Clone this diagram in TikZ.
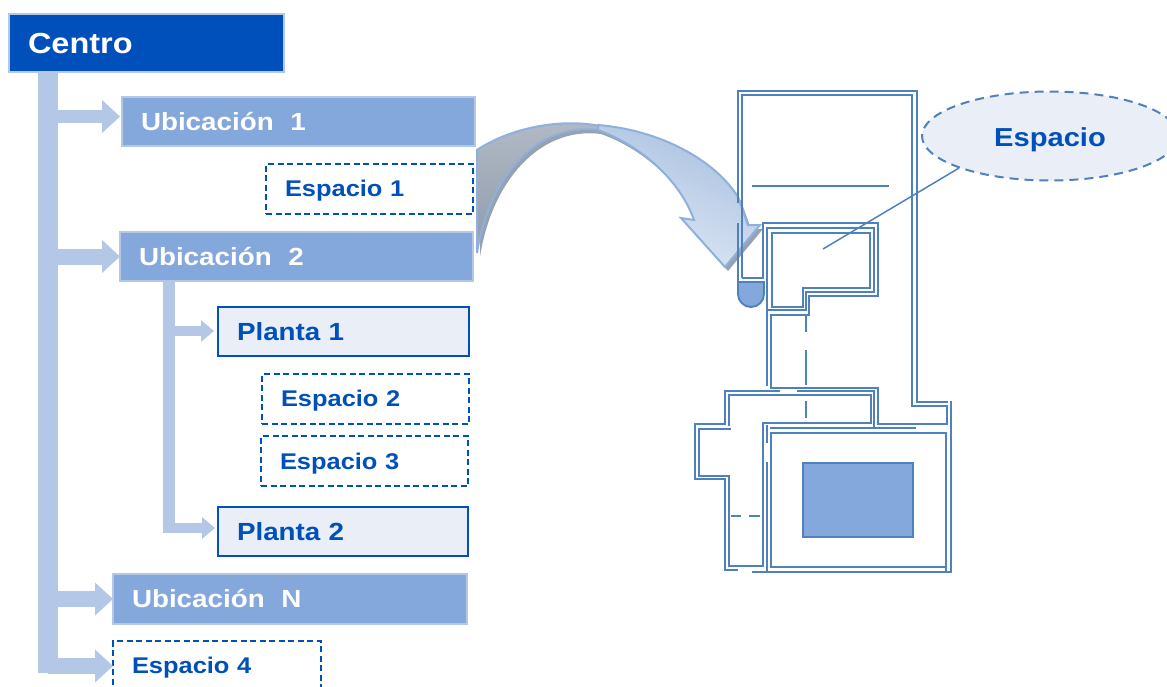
\documentclass[tikz,border=0pt]{standalone}
\usepackage{fontspec}
\setmainfont{Liberation Sans}
\newfontfamily\lab[FakeStretch=1.12]{Liberation Sans}
\usetikzlibrary{arrows.meta,shapes.geometric}
\definecolor{deep}{HTML}{0050BB}
\definecolor{mid}{HTML}{84A8DC}
\definecolor{pale}{HTML}{E9EEF7}
\definecolor{barc}{HTML}{B4C7E7}
\definecolor{wall}{HTML}{4F81BD}
\definecolor{arrowline}{HTML}{8FB0DC}
\definecolor{shadowc}{HTML}{97A2B0}
\definecolor{backtop}{HTML}{B2BAC6}
\definecolor{backbot}{HTML}{8F9BAA}
\definecolor{fronttop}{HTML}{A9C0E0}
\definecolor{frontbot}{HTML}{E0E9F5}
\newcommand\dn[2]{\raisebox{-#1pt}[\height][\depth]{#2}}
\tikzset{
  x=1pt,y=-1pt,
  boxbase/.style={rectangle,anchor=north west,outer sep=0pt,inner ysep=0pt,inner xsep=19pt,align=left},
  centrobox/.style={boxbase,fill=deep,draw=barc,line width=1.5pt,text=white,font=\lab\bfseries\fontsize{29}{32}\selectfont},
  ubibox/.style={boxbase,fill=mid,draw=barc,line width=1.5pt,text=white,font=\lab\bfseries\fontsize{24.8}{28}\selectfont},
  planbox/.style={boxbase,fill=pale,draw=deep,line width=2pt,text=deep,font=\lab\bfseries\fontsize{24.8}{28}\selectfont},
  spacebox/.style={boxbase,draw=deep,dashed,dash pattern=on 6pt off 3.5pt,line width=2pt,text=deep,font=\lab\bfseries\fontsize{22.7}{26}\selectfont},
  trunkline/.style={draw=barc,line width=19.5pt},
  subtrunk/.style={draw=barc,line width=12pt},
  branch/.style={draw=barc,line width=16pt,-{Triangle[length=18pt,width=32pt]}},
  subbranch/.style={draw=barc,line width=10.5pt,-{Triangle[length=13pt,width=21pt]}},
  wallline/.style={draw=wall,line width=1.9pt},
  thinwall/.style={draw=wall,line width=1.5pt},
  bigarrow/.style={draw=arrowline,line width=2pt},
}
\begin{document}
\begin{tikzpicture}
\useasboundingbox (0,0) rectangle (1167,686);
\clip (0,0) rectangle (1167,686);
% curved arrow: shadow
\begin{scope}[shift={(3pt,-4pt)}]
\fill[shadowc] (477,150) .. controls (510,128) and (560,118) .. (600,126)
  -- (598,130) .. controls (535,122) and (488,180) .. (477,253) -- cycle;
\fill[shadowc] (598,125) .. controls (660,130) and (715,160) .. (738,197) -- (748,225) -- (760,225)
  -- (725,267) -- (681,218) -- (694,220) .. controls (680,180) and (640,145) .. (598,130) -- cycle;
\end{scope}
% back of the ribbon
\path[bigarrow,top color=backtop,bottom color=backbot]
  (477,150) .. controls (510,128) and (560,118) .. (600,126)
  -- (598,130) .. controls (535,122) and (488,180) .. (477,253) -- cycle;
% front of the ribbon
\path[bigarrow,top color=fronttop,bottom color=frontbot,shading angle=-25]
  (598,125) .. controls (660,130) and (715,160) .. (738,197) -- (748,225) -- (760,225)
  -- (725,267) -- (681,218) -- (694,220) .. controls (680,180) and (640,145) .. (598,130) -- cycle;
% plan
\path[wallline,fill=none]
  (738,203) -- (738,91) -- (917,91) -- (917,402) -- (948,402);
\path[wallline] (738,223) -- (738,282);
\path[wallline] (742,278) -- (742,95) -- (912,95) -- (912,406) -- (947,406) -- (947,424) -- (878,424) -- (878,388) -- (771,388) -- (771,315) -- (809,315) -- (809,296) -- (878,296) -- (878,223) -- (763,223) -- (763,278) -- (742,278);
\path[wallline] (767,386) -- (767,228) -- (874,228) -- (874,292) -- (806,292) -- (806,310) -- (767,310);
\path[wallline] (772,233) -- (870,233) -- (870,288) -- (803,288) -- (803,307) -- (772,307) -- cycle;
\path[thinwall] (752,186) -- (889,186);
\path[wallline] (806,315) -- (806,332);
\path[wallline] (806,350) -- (806,385);
\path[wallline] (806,401) -- (806,418);
\path[wallline] (780,391) -- (725,391) -- (725,424) -- (695,424) -- (695,479) -- (725,479) -- (725,570) -- (738,570);
\path[wallline] (797,391) -- (874,391) -- (874,428);
\path[wallline] (729,426) -- (729,395) -- (871,395) -- (871,423) -- (763,423) -- (763,566) -- (729,566) -- (729,476) -- (699,476) -- (699,429) -- (731,429);
\path[wallline] (767,425) -- (767,443);
\path[wallline] (767,462) -- (767,572);
\path[wallline] (770,428) -- (916,428);
\path[wallline] (752,572) -- (951,572) -- (951,401);
\path[wallline] (771,433) rectangle (946,567);
\path[wallline] (946,567) -- (946,572);
\path[wallline,fill=mid] (803,463) rectangle (913,537);
\path[thinwall] (731,516) -- (741,516);
\path[thinwall] (749,516) -- (760,516);
\path[wallline,fill=mid] (738,282) -- (764,282) -- (764,294) arc[start angle=0,end angle=180,radius=13] -- cycle;
% connectors
\coordinate (tt) at (48,73);
\coordinate (tb) at (48,673);
\coordinate (st) at (169,282);
\coordinate (sb) at (169,533);
\coordinate (ubi1in) at (120,116.5);
\coordinate (pl1in) at (214,331);
\coordinate (pl2in) at (215,528);
\draw[trunkline] (tt) -- (tb);
\draw[subtrunk] (st) -- (sb);
% tree boxes
\node[centrobox,minimum height=58pt,text width=237pt] (centro) at (9,14) {\dn{1}{Centro}};
\node[ubibox,minimum height=49pt,text width=315pt] (ubi1) at (122,97) {Ubicación~~1};
\node[spacebox,minimum height=50pt,text width=169pt] (esp1) at (266,164) {\dn{2}{Espacio 1}};
\node[ubibox,minimum height=49pt,text width=315pt] (ubi2) at (120,232) {Ubicación~~2};
\node[planbox,minimum height=49pt,text width=213pt] (pl1) at (218,307) {Planta 1};
\node[spacebox,minimum height=50pt,text width=169pt] (esp2) at (262,374) {\dn{2}{Espacio 2}};
\node[spacebox,minimum height=50pt,text width=169pt] (esp3) at (261,436) {\dn{3}{Espacio 3}};
\node[planbox,minimum height=49pt,text width=212pt] (pl2) at (218,507) {Planta 2};
\node[ubibox,minimum height=50pt,text width=316pt] (ubin) at (113,574) {Ubicación~~N};
\node[spacebox,minimum height=50pt,text width=170pt] (esp4) at (113,641) {\dn{2}{Espacio 4}};
\draw[branch,line width=13pt] (tt |- ubi1in) -- (ubi1in);
\draw[branch] (tt |- ubi2.west) -- (ubi2.west);
\draw[branch] (tt |- ubin.west) -- (ubin.west);
\draw[branch] (tt |- esp4.west) -- (esp4.west);
\draw[subbranch] (st |- pl1in) -- (pl1in);
\draw[subbranch] (sb |- pl2in) -- (pl2in);
% ellipse
\node[ellipse,draw=wall,fill=pale,dashed,dash pattern=on 9pt off 6pt,line width=2pt,minimum width=256pt,minimum height=89pt,text=deep,font=\lab\bfseries\fontsize{26}{30}\selectfont] (esp) at (1050,136) {\dn{4}{Espacio}};
\coordinate (room) at (823,249);
\path[thinwall] (room) -- (esp.south west);
\end{tikzpicture}
\end{document}
